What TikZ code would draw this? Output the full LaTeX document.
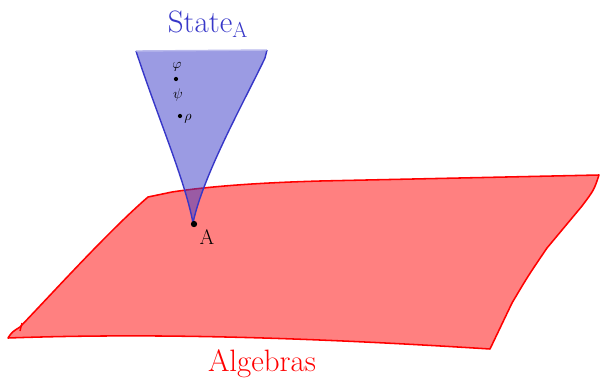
\documentclass[tikz,border=0pt]{standalone}
\usepackage{amsmath}
\usepackage{xcolor}
\usepackage{tikz}
\usetikzlibrary{calc}

\definecolor{stateblue}{RGB}{55,55,200}
\definecolor{algred}{RGB}{255,0,0}

\begin{document}
\begin{tikzpicture}[
  x=0.025cm, y=-0.025cm,
  plane/.style ={draw=algred,line width=1.1pt,fill=algred!50,line join=round},
  cone/.style  ={fill=stateblue,fill opacity=0.5},
  rim/.style   ={draw=stateblue,line width=1pt},
  ttl/.style   ={font=\fontsize{22}{24}\selectfont,inner sep=0pt},
  pt/.style    ={circle,fill=black,inner sep=0pt,minimum size=4.5pt},
  sym/.style   ={font=\normalsize,inner sep=0pt}]

\useasboundingbox (0,0) rectangle (600,389);

%---------------- Plane of algebras ----------------
\draw[plane] (148,197) -- (172,192)
  .. controls (205,187) and (250,183) .. (320,181)
  -- (599,175) .. controls (594,190) .. (582,206)
  -- (547,248) .. controls (528,276) .. (512,303)
  -- (490,349) .. controls (300,337) and (150,333) .. (8,338)
  .. controls (12,332) .. (20,327)
  .. controls (60,285) and (110,230) .. cycle;
\draw[draw=algred,line width=1pt] (20,331) -- (22,323);
\node[ttl,text=algred] (alg) at (262,364) {Algebras};

%---------------- Cone of states over A ----------------
\fill[cone] (136,51) .. controls (158,118) and (185,180) .. (193,223)
  .. controls (203,175) and (245,100) .. (265,58) -- (267,50) -- cycle;
\draw[rim] (136,51) .. controls (158,118) and (185,180) .. (193,223)
  .. controls (203,175) and (245,100) .. (265,58) -- (267,50);
\draw[stateblue!35,line width=1pt] (136,51) -- (267,50);
\node[ttl,text=stateblue] (state) at (208,24) {State$_{\text{A}}$};

%---------------- Point A and states ----------------
\node[pt] (a) at (194,224) {};
\node[font=\fontsize{15}{16}\selectfont,inner sep=0pt] (alab) at (207,237) {A};
\node[sym] (phi) at (177,67) {$\varphi$};
\node[pt,minimum size=3pt] (phipt) at (176,79) {};
\node[sym] (psi) at (178,95) {$\psi$};
\node[pt,minimum size=3pt] (rhopt) at (180,116) {};
\node[sym] (rho) at (188,119) {$\rho$};

\end{tikzpicture}
\end{document}
